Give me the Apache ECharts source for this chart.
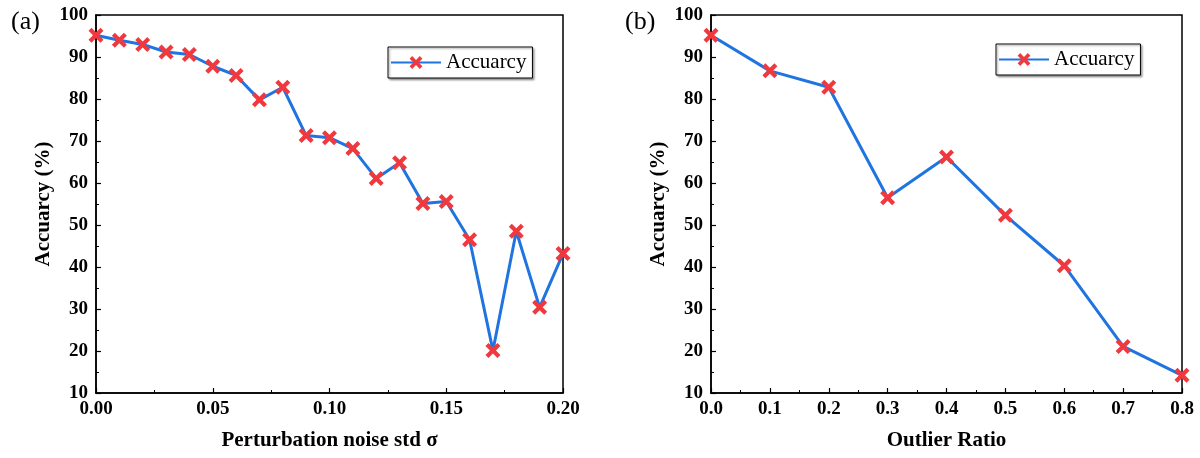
<!DOCTYPE html>
<html>
<head>
<meta charset="utf-8">
<script src="https://cdn.jsdelivr.net/npm/echarts@6/dist/echarts.min.js"></script>
<style>
  html, body { margin: 0; padding: 0; background: #fff; }
  #main { width: 1200px; height: 458px; }
</style>
</head>
<body>
<div id="main"></div>
<script>
// panel (a): accuracy vs perturbation noise std
var noiseStd = [0, 0.01, 0.02, 0.03, 0.04, 0.05, 0.06, 0.07, 0.08, 0.09, 0.10,
  0.11, 0.12, 0.13, 0.14, 0.15, 0.16, 0.17, 0.18, 0.19, 0.20];
var noiseAcc = [95.2, 94.0, 93.0, 91.2, 90.6, 87.8, 85.6, 79.8, 82.8, 71.3, 70.8,
  68.2, 61.1, 64.8, 55.1, 55.6, 46.5, 20.1, 48.5, 30.4, 43.2];

// panel (b): accuracy vs outlier ratio
var outlierRatio = [0, 0.1, 0.2, 0.3, 0.4, 0.5, 0.6, 0.7, 0.8];
var outlierAcc = [95.2, 86.7, 82.8, 56.5, 66.2, 52.3, 40.3, 21.1, 14.2];

var serif = '"Liberation Serif", "DejaVu Serif", serif';
// thick "x" marker
var crossPath = 'path://M0,4 L4,0 L10,6 L16,0 L20,4 L14,10 L20,16 L16,20 L10,14 L4,20 L0,16 L6,10 Z';

function pairs(xs, ys) {
  return xs.map(function (x, i) { return [x, ys[i]]; });
}

function xAxisCfg(idx, name, max, interval, digits) {
  return {
    gridIndex: idx,
    type: 'value',
    min: 0,
    max: max,
    interval: interval,
    name: name,
    nameLocation: 'middle',
    nameGap: 37,
    nameTextStyle: { fontFamily: serif, fontWeight: 'bold', fontSize: 21, color: '#000' },
    axisLine: { lineStyle: { color: '#000', width: 1.5 } },
    axisTick: { inside: true, length: 5, lineStyle: { color: '#000', width: 1.2 } },
    minorTick: { show: true, splitNumber: 2, length: 3, lineStyle: { color: '#000', width: 1 } },
    splitLine: { show: false },
    axisLabel: {
      margin: 7,
      fontFamily: serif, fontWeight: 'bold', fontSize: 19, color: '#000',
      formatter: function (v) { return v.toFixed(digits); }
    }
  };
}

function yAxisCfg(idx) {
  return {
    gridIndex: idx,
    type: 'value',
    min: 10,
    max: 100,
    interval: 10,
    name: 'Accuarcy (%)',
    nameLocation: 'middle',
    nameGap: 42,
    nameTextStyle: { fontFamily: serif, fontWeight: 'bold', fontSize: 21, color: '#000' },
    axisLine: { show: true, lineStyle: { color: '#000', width: 1.5 } },
    axisTick: { show: true, inside: true, length: 5, lineStyle: { color: '#000', width: 1.2 } },
    minorTick: { show: true, splitNumber: 2, length: 3, lineStyle: { color: '#000', width: 1 } },
    splitLine: { show: false },
    axisLabel: { margin: 8, fontFamily: serif, fontWeight: 'bold', fontSize: 19, color: '#000' }
  };
}

function seriesCfg(idx, data) {
  return {
    name: 'Accuarcy',
    type: 'line',
    xAxisIndex: idx,
    yAxisIndex: idx,
    data: data,
    symbol: crossPath,
    symbolSize: 15,
    showAllSymbol: true,
    lineStyle: { color: '#1f74e0', width: 3 },
    itemStyle: { color: '#f0393f' },
    emphasis: { disabled: true }
  };
}

function legendCfg(left, top) {
  return {
    left: left,
    top: top,
    padding: [5, 6, 5, 2],
    itemWidth: 50,
    itemHeight: 16,
    itemGap: 6,
    borderColor: '#000',
    borderWidth: 1,
    backgroundColor: '#fff',
    shadowColor: 'rgba(0,0,0,0.35)',
    shadowBlur: 2,
    shadowOffsetX: 1.5,
    shadowOffsetY: 1.5,
    textStyle: { fontFamily: serif, fontSize: 21, color: '#000' },
    data: ['Accuarcy']
  };
}

var chart = echarts.init(document.getElementById('main'));

var option = {
  animation: false,
  backgroundColor: '#fff',
  title: [
    { text: '(a)', left: 6, top: 4, textStyle: { fontFamily: serif, fontWeight: 'normal', fontSize: 26, color: '#000' } },
    { text: '(b)', left: 620, top: 4, textStyle: { fontFamily: serif, fontWeight: 'normal', fontSize: 26, color: '#000' } }
  ],
  grid: [
    { left: 96, right: 637, top: 15, bottom: 65, show: true, borderColor: '#000', borderWidth: 1.5 },
    { left: 711, right: 18, top: 15, bottom: 65, show: true, borderColor: '#000', borderWidth: 1.5 }
  ],
  legend: [legendCfg(388, 47), legendCfg(996, 44)],
  xAxis: [
    xAxisCfg(0, 'Perturbation noise std σ', 0.2, 0.05, 2),
    xAxisCfg(1, 'Outlier Ratio', 0.8, 0.1, 1)
  ],
  yAxis: [yAxisCfg(0), yAxisCfg(1)],
  series: [
    seriesCfg(0, pairs(noiseStd, noiseAcc)),
    seriesCfg(1, pairs(outlierRatio, outlierAcc))
  ]
};

chart.setOption(option);
</script>
</body>
</html>
